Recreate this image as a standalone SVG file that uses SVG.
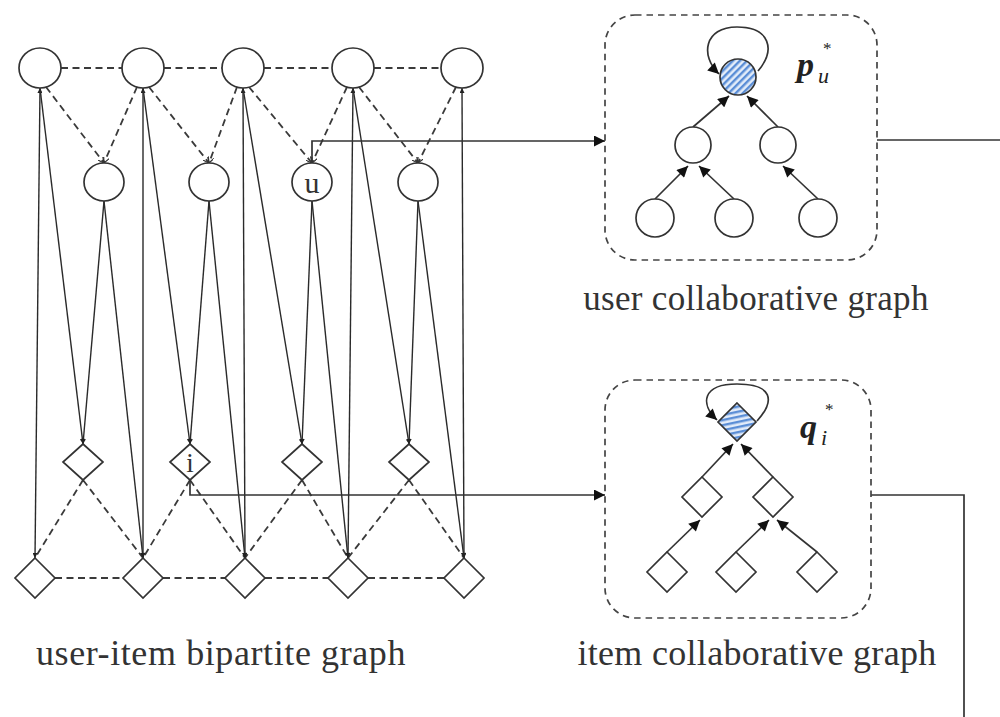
<svg xmlns="http://www.w3.org/2000/svg" width="1000" height="717" viewBox="0 0 1000 717">
<style>
.n{fill:#fff;stroke:#333;stroke-width:1.7}
.d{fill:none;stroke:#3a3a3a;stroke-width:1.8;stroke-dasharray:7 4.5}
.s{fill:none;stroke:#2a2a2a;stroke-width:1.4}
.c{fill:none;stroke:#333;stroke-width:1.7}
.box{fill:none;stroke:#444;stroke-width:1.7;stroke-dasharray:6.5 5}
.t{font-family:"Liberation Serif","Times New Roman",serif;fill:#333}
.m{font-family:"Liberation Serif","Times New Roman",serif;fill:#222}
</style>
<defs>
<marker id="big" viewBox="0 0 10 10" refX="10" refY="5" markerUnits="userSpaceOnUse" markerWidth="13" markerHeight="11" orient="auto"><path d="M0,0 L10,5 L0,10 z" fill="#111"/></marker>
<marker id="tr" viewBox="0 0 10 10" refX="10" refY="5" markerUnits="userSpaceOnUse" markerWidth="12" markerHeight="11" orient="auto"><path d="M0,0 L10,5 L0,10 z" fill="#111"/></marker>
<marker id="sm" viewBox="0 0 10 10" refX="10" refY="5" markerUnits="userSpaceOnUse" markerWidth="6" markerHeight="5" orient="auto-start-reverse"><path d="M0,0 L10,5 L0,10 z" fill="#222"/></marker>
<marker id="sv" viewBox="0 0 10 10" refX="10" refY="5" markerUnits="userSpaceOnUse" markerWidth="6" markerHeight="6" orient="auto"><path d="M0,0 L10,5 L0,10" fill="none" stroke="#333" stroke-width="2"/></marker>
<pattern id="hc" patternUnits="userSpaceOnUse" width="5" height="10" patternTransform="rotate(45)"><rect width="5" height="10" fill="#e3ecf9"/><rect width="2.4" height="10" fill="#5b8ed6"/></pattern>
<pattern id="hd" patternUnits="userSpaceOnUse" width="10" height="5" patternTransform="rotate(-12)"><rect width="10" height="5" fill="#e3ecf9"/><rect width="10" height="2.4" fill="#5b8ed6"/></pattern>
</defs>

<g id="connectors">
<path class="d" d="M61,68H122M164,68H222M264,68H332M374,68H441"/>
<path class="d" marker-end="url(#sv)" d="M46,87L104,163"/>
<path class="d" marker-end="url(#sv)" d="M137,87L104,163"/>
<path class="d" marker-end="url(#sv)" d="M149,87L209,163"/>
<path class="d" marker-end="url(#sv)" d="M237,87L209,163"/>
<path class="d" marker-end="url(#sv)" d="M249,87L312,163"/>
<path class="d" marker-end="url(#sv)" d="M347,87L312,163"/>
<path class="d" marker-end="url(#sv)" d="M359,87L418,163"/>
<path class="d" marker-end="url(#sv)" d="M456,87L418,163"/>
<path class="d" d="M55,578H123M163,578H225M265,578H328M368,578H444"/>
<path class="d" d="M83,480L35,558M83,480L143,558M190,480L143,558M190,480L245,558M302,480L245,558M302,480L348,558M409,480L348,558M409,480L464,558"/>
<path class="s" marker-start="url(#sm)" marker-end="url(#sm)" d="M40,88L35,558"/>
<path class="s" marker-start="url(#sm)" marker-end="url(#sm)" d="M143,88L143,558"/>
<path class="s" marker-start="url(#sm)" marker-end="url(#sm)" d="M243,88L245,558"/>
<path class="s" marker-start="url(#sm)" marker-end="url(#sm)" d="M353,88L348,558"/>
<path class="s" marker-start="url(#sm)" marker-end="url(#sm)" d="M462,88L464,558"/>
<path class="s" marker-end="url(#sm)" d="M40,88L83,444"/>
<path class="s" marker-end="url(#sm)" d="M143,88L190,444"/>
<path class="s" marker-end="url(#sm)" d="M243,88L302,444"/>
<path class="s" marker-end="url(#sm)" d="M353,88L409,444"/>
<path class="s" marker-end="url(#sm)" d="M104,201L83,444"/>
<path class="s" marker-end="url(#sm)" d="M209,201L190,444"/>
<path class="s" marker-end="url(#sm)" d="M312,201L302,444"/>
<path class="s" marker-end="url(#sm)" d="M418,201L409,444"/>
<path class="s" marker-end="url(#sm)" d="M104,201L143,558"/>
<path class="s" marker-end="url(#sm)" d="M209,201L245,558"/>
<path class="s" marker-end="url(#sm)" d="M312,201L348,558"/>
<path class="s" marker-end="url(#sm)" d="M418,201L464,558"/>
<path class="c" marker-end="url(#big)" d="M312,163V141H605"/>
<path class="c" marker-end="url(#big)" d="M190,480V495H605"/>
<path class="c" d="M877,140H1000"/>
<path class="c" d="M871,495H964V717"/>
<path class="c" marker-end="url(#tr)" d="M693,127L729,96"/>
<path class="c" marker-end="url(#tr)" d="M778,127L747,96"/>
<path class="c" marker-end="url(#tr)" d="M655,199L688,166"/>
<path class="c" marker-end="url(#tr)" d="M734,199L699,166"/>
<path class="c" marker-end="url(#tr)" d="M818,199L783,166"/>
<path class="c" marker-end="url(#tr)" d="M758,71C776,50 770,27 737,27C704,27 700,56 719,74"/>
<path class="c" marker-end="url(#tr)" d="M702,477L733,444"/>
<path class="c" marker-end="url(#tr)" d="M773,477L741,444"/>
<path class="c" marker-end="url(#tr)" d="M667,552L700,520"/>
<path class="c" marker-end="url(#tr)" d="M736,552L769,520"/>
<path class="c" marker-end="url(#tr)" d="M817,552L777,520"/>
<path class="c" marker-end="url(#tr)" d="M757,421C776,400 772,384 737,384C702,384 700,404 717,420"/>
</g>

<g id="bipartite">
<g id="u1"><ellipse class="n" cx="40" cy="68" rx="21" ry="20"/></g>
<g id="u2"><ellipse class="n" cx="143" cy="68" rx="21" ry="20"/></g>
<g id="u3"><ellipse class="n" cx="243" cy="68" rx="21" ry="20"/></g>
<g id="u4"><ellipse class="n" cx="353" cy="68" rx="21" ry="20"/></g>
<g id="u5"><ellipse class="n" cx="462" cy="68" rx="21" ry="20"/></g>
<g id="m1"><ellipse class="n" cx="104" cy="182" rx="20" ry="19"/></g>
<g id="m2"><ellipse class="n" cx="209" cy="182" rx="20" ry="19"/></g>
<g id="mu"><ellipse class="n" cx="312" cy="182" rx="20" ry="19"/><text class="t" x="312" y="193" font-size="30" text-anchor="middle">u</text></g>
<g id="m4"><ellipse class="n" cx="418" cy="182" rx="20" ry="19"/></g>
<g id="d1"><path class="n" d="M83,444L103,462L83,480L63,462Z"/></g>
<g id="di"><path class="n" d="M190,444L210,462L190,480L170,462Z"/><text class="t" x="190" y="472" font-size="27" text-anchor="middle">i</text></g>
<g id="d3"><path class="n" d="M302,444L322,462L302,480L282,462Z"/></g>
<g id="d4"><path class="n" d="M409,444L429,462L409,480L389,462Z"/></g>
<g id="b1"><path class="n" d="M35,558L55,578L35,598L15,578Z"/></g>
<g id="b2"><path class="n" d="M143,558L163,578L143,598L123,578Z"/></g>
<g id="b3"><path class="n" d="M245,558L265,578L245,598L225,578Z"/></g>
<g id="b4"><path class="n" d="M348,558L368,578L348,598L328,578Z"/></g>
<g id="b5"><path class="n" d="M464,558L484,578L464,598L444,578Z"/></g>
<text class="t" x="221" y="665" font-size="36" letter-spacing="0.6" text-anchor="middle">user-item bipartite graph</text>
</g>

<g id="user-graph">
<rect class="box" x="605" y="15" width="272" height="245" rx="30"/>
<circle cx="738" cy="77" r="18" fill="url(#hc)" stroke="#333" stroke-width="1.7"/>
<circle class="n" cx="693" cy="145" r="18"/>
<circle class="n" cx="778" cy="145" r="18"/>
<circle class="n" cx="655" cy="218" r="19"/>
<circle class="n" cx="734" cy="218" r="19"/>
<circle class="n" cx="818" cy="218" r="19"/>
<text class="m" x="797" y="76" font-size="34" font-weight="bold" font-style="italic">p</text>
<text class="m" x="818" y="83" font-size="22" font-style="italic">u</text>
<text class="m" x="823" y="54" font-size="17">*</text>
<text class="t" x="756" y="310" font-size="35" letter-spacing="0.3" text-anchor="middle">user collaborative graph</text>
</g>

<g id="item-graph">
<rect class="box" x="605" y="380" width="266" height="238" rx="30"/>
<path d="M737,403L756,422L737,441L718,422Z" fill="url(#hd)" stroke="#333" stroke-width="1.7"/>
<path class="n" d="M702,477L722,497L702,517L682,497Z"/>
<path class="n" d="M773,477L793,497L773,517L753,497Z"/>
<path class="n" d="M667,552L687,572L667,592L647,572Z"/>
<path class="n" d="M736,552L756,572L736,592L716,572Z"/>
<path class="n" d="M817,552L837,572L817,592L797,572Z"/>
<text class="m" x="800" y="438" font-size="34" font-weight="bold" font-style="italic">q</text>
<text class="m" x="821" y="445" font-size="22" font-style="italic">i</text>
<text class="m" x="825" y="415" font-size="17">*</text>
<text class="t" x="757" y="665" font-size="36" letter-spacing="0.3" text-anchor="middle">item collaborative graph</text>
</g>
</svg>
